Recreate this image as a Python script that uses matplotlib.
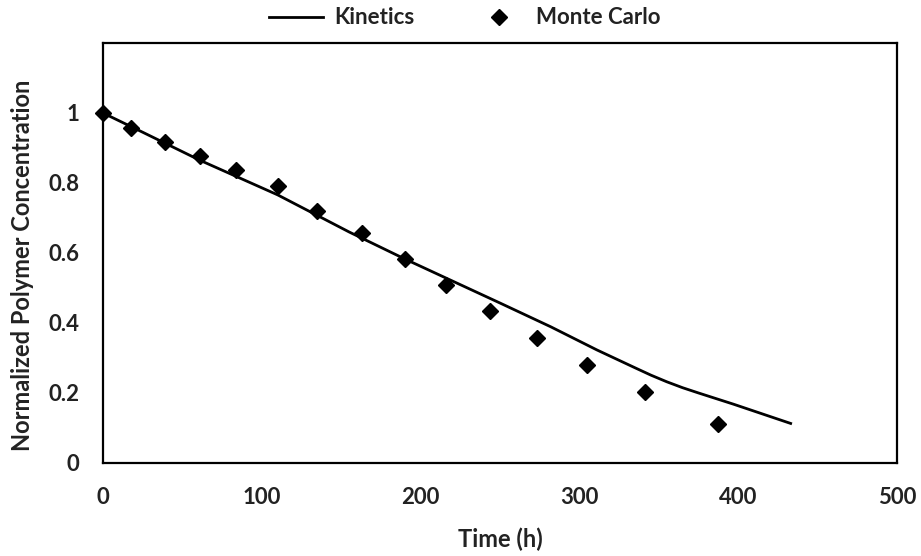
import matplotlib.pyplot as plt

# Monte Carlo points
mc_time = [0, 17.6, 39, 61, 84, 110, 135, 163, 190, 216, 244, 273, 305, 341, 387]
mc_conc = [1.0, 0.957, 0.917, 0.877, 0.837, 0.791, 0.72, 0.657, 0.583, 0.509, 0.434, 0.357, 0.28, 0.204, 0.111]

# Kinetics curve
kin_time = [0, 25, 61, 110, 155, 190, 250, 282, 311, 335, 345, 355, 365, 375, 397, 433]
kin_conc = [1.0, 0.945, 0.865, 0.766, 0.66, 0.583, 0.457, 0.389, 0.323, 0.272, 0.251, 0.232, 0.215, 0.200, 0.168, 0.113]

font = "Lato"

fig = plt.figure(figsize=(9.21, 5.56), dpi=100)
ax = fig.add_axes([0.1118, 0.1673, 0.8622, 0.7554])

ax.plot(kin_time, kin_conc, color="black", linewidth=2, label="Kinetics")
ax.plot(mc_time, mc_conc, linestyle="none", marker="D", markersize=8.5,
        color="black", label="Monte Carlo", clip_on=False, zorder=3)

ax.set_xlim(0, 500)
ax.set_ylim(0, 1.2)
ax.set_xticks([0, 100, 200, 300, 400, 500])
ax.set_yticks([0, 0.2, 0.4, 0.6, 0.8, 1.0])
ax.set_yticklabels(["0", "0.2", "0.4", "0.6", "0.8", "1"])
ax.tick_params(length=0, labelsize=16)
ax.tick_params(axis="x", pad=17)
ax.tick_params(axis="y", pad=17)
for lab in ax.get_xticklabels() + ax.get_yticklabels():
    lab.set_fontfamily(font)
    lab.set_fontweight("bold")
    lab.set_color("#222222")
for s in ax.spines.values():
    s.set_linewidth(1.6)

ax.set_xlabel("Time (h)", fontsize=17, fontweight="bold", fontfamily=font,
              color="#222222", labelpad=14)
ax.set_ylabel("Normalized Polymer Concentration", fontsize=17, fontweight="bold",
              fontfamily=font, color="#222222")
ax.yaxis.set_label_coords(-0.087, 0.47)

leg = fig.legend(loc="center", bbox_to_anchor=(0.505, 0.968), ncol=2, frameon=False,
                 prop={"family": font, "weight": "bold", "size": 16},
                 handlelength=2.4, columnspacing=2.6, handletextpad=0.5)
for t in leg.get_texts():
    t.set_color("#222222")

fig.savefig("out.png", dpi=100)
